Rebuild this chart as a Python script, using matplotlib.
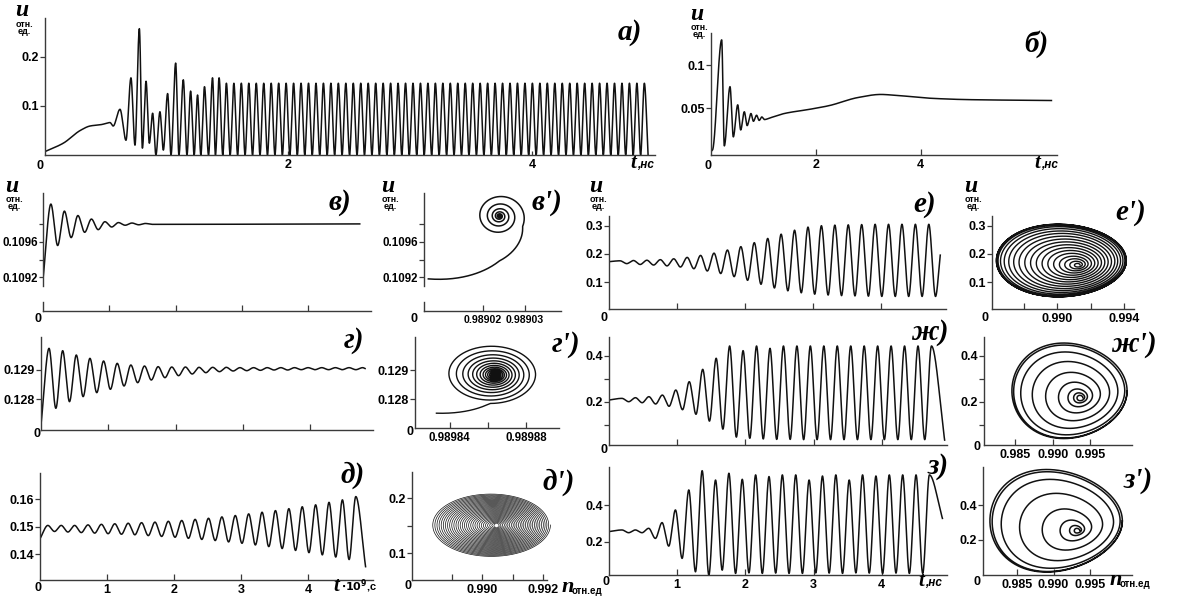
import numpy as np
import matplotlib
matplotlib.use("Agg")
import matplotlib.pyplot as plt

plt.rcParams['font.family'] = ['Liberation Sans', 'DejaVu Sans']
plt.rcParams['font.weight'] = 'bold'
plt.rcParams['mathtext.fontset'] = 'dejavusans'

# ======================= DATA =======================
# а) transient part: extrema / anchor points (t in ns, u)
a_trans_t = [0.0, 0.15, 0.29, 0.37, 0.465, 0.534, 0.56, 0.616, 0.665, 0.706, 0.739,
             0.775, 0.80, 0.83, 0.857, 0.884, 0.911, 0.944, 0.972, 1.007, 1.035,
             1.073, 1.10, 1.136, 1.166, 1.196, 1.225, 1.253, 1.28, 1.31, 1.343,
             1.376, 1.40, 1.43, 1.46]
a_trans_u = [0.007, 0.024, 0.050, 0.059, 0.062, 0.066, 0.059, 0.093, 0.030, 0.157, 0.020,
             0.257, 0.014, 0.150, 0.024, 0.085, 0.0, 0.088, 0.010, 0.125, 0.0,
             0.187, 0.0, 0.153, 0.0, 0.130, 0.0, 0.122, 0.0, 0.139, 0.0,
             0.157, 0.0, 0.157, 0.0]
a_steady_start, a_steady_period, a_end = 1.49, 0.0613, 4.95
a_steady_peak, a_steady_trough = 0.146, 0.0

# б)
b_t = [0.0, 0.03, 0.204, 0.254, 0.363, 0.426, 0.51, 0.567, 0.636, 0.69, 0.763, 0.81,
       0.87, 0.92, 0.97, 1.02, 1.13, 1.40, 1.90, 2.25, 2.81, 3.24, 3.52, 4.22, 4.92, 6.50]
b_u = [0.0, 0.002, 0.129, 0.0066, 0.075, 0.017, 0.054, 0.025, 0.046, 0.030, 0.044, 0.035,
       0.042, 0.036, 0.040, 0.037, 0.039, 0.044, 0.049, 0.053, 0.0625, 0.066, 0.065,
       0.0615, 0.060, 0.059]

# в)
v_start, v_t1, v_period, v_end_t, v_end_u = 0.1092, 0.116, 0.204, 4.78, 0.109805
v_peaks = [0.11003, 0.10995, 0.10990, 0.10986, 0.10983, 0.10982, 0.109815, 0.10981]
v_troughs = [0.10956, 0.10965, 0.10971, 0.10974, 0.10977, 0.10979, 0.109795, 0.10980]

# г)
g_start, g_t1, g_period, g_end_t, g_end_u = 0.12724, 0.115, 0.203, 4.82, 0.12905
g_peaks = [0.129739, 0.129659, 0.129511, 0.129398, 0.129307, 0.129227, 0.12917, 0.129136,
           0.129114, 0.129102, 0.129102, 0.129091, 0.129091, 0.129091, 0.12908, 0.12908,
           0.12908, 0.12908, 0.12908, 0.12908, 0.12908, 0.12908, 0.12908, 0.12908]
g_troughs = [0.127693, 0.12792, 0.128091, 0.128227, 0.128341, 0.128455, 0.128568, 0.128659,
             0.128739, 0.128807, 0.128864, 0.128909, 0.128943, 0.128966, 0.128977, 0.128989,
             0.129, 0.129, 0.129011, 0.129011, 0.129011, 0.129011, 0.129011]

# д)
d_start, d_t1, d_period, d_end_t, d_end_u = 0.1458, 0.114, 0.2, 4.86, 0.1355
d_peaks = [0.1505, 0.1505, 0.1505, 0.1507, 0.1509, 0.1511, 0.1513, 0.1515, 0.1517, 0.1520,
           0.1523, 0.1527, 0.1531, 0.1536, 0.1541, 0.1547, 0.1553, 0.1559, 0.1566, 0.1573,
           0.1580, 0.1589, 0.1598, 0.1610]
d_troughs = [0.1483, 0.1481, 0.1479, 0.1477, 0.1475, 0.1473, 0.1471, 0.1468, 0.1465, 0.1462,
             0.1458, 0.1454, 0.1450, 0.1445, 0.1440, 0.1434, 0.1428, 0.1421, 0.1414, 0.1406,
             0.1398, 0.1390, 0.1381]

# е)
e_start, e_t1, e_period, e_end_t, e_end_u = 0.173, 0.157, 0.198, 4.88, 0.196
e_peaks = [0.176, 0.177, 0.178, 0.180, 0.183, 0.188, 0.195, 0.203, 0.214, 0.226, 0.240, 0.255,
           0.270, 0.284, 0.295, 0.300, 0.302, 0.303, 0.304, 0.305, 0.305, 0.305, 0.305, 0.305]
e_troughs = [0.166, 0.163, 0.161, 0.158, 0.154, 0.148, 0.140, 0.131, 0.120, 0.107, 0.093, 0.080,
             0.070, 0.063, 0.058, 0.055, 0.053, 0.052, 0.051, 0.050, 0.050, 0.050, 0.050, 0.050]

# ж)
zh_start, zh_t1, zh_period, zh_end_t, zh_end_u = 0.207, 0.196, 0.197, 4.92, 0.032
zh_peaks = [0.2146, 0.2175, 0.222, 0.229, 0.251, 0.2876, 0.3416, 0.390, 0.4438, 0.4234, 0.4438,
            0.4336, 0.4438, 0.4438, 0.4438, 0.4438, 0.4438, 0.4438, 0.4438, 0.4438, 0.4438,
            0.4438, 0.4438, 0.4438]
zh_troughs = [0.200, 0.1956, 0.190, 0.180, 0.165, 0.145, 0.115, 0.080, 0.045, 0.040, 0.037,
              0.035, 0.035, 0.034, 0.034, 0.034, 0.034, 0.034, 0.034, 0.034, 0.034, 0.034, 0.034]

# з)
z_start, z_t1, z_period, z_end_t, z_end_u = 0.255, 0.19, 0.196, 4.889, 0.327
z_peaks = [0.264, 0.264, 0.273, 0.304, 0.373, 0.482, 0.587, 0.536, 0.573, 0.540, 0.564, 0.555,
           0.564, 0.564, 0.536, 0.558, 0.564, 0.536, 0.564, 0.558, 0.564, 0.564, 0.564, 0.564]
z_troughs = [0.249, 0.249, 0.218, 0.176, 0.109, 0.036, 0.018, 0.045, 0.027, 0.030, 0.027, 0.029,
             0.027, 0.027, 0.030, 0.029, 0.027, 0.030, 0.029, 0.027, 0.029, 0.027, 0.027]

# phase portraits: inner centre, outer-loop centre, outer semi-axes, radius per turn
vp_c_in, vp_c_out, vp_axes = (0.9890239, 0.109895), (0.9890239, 0.109887), (6.1e-6, 2.64e-4)
vp_turns = [0.622, 0.75, 0.93, 1.93, 2.93, 3.93, 4.93, 5.93, 6.93, 8.0, 9.5]
vp_radii = [3.85, 1.9, 1.0, 0.62, 0.38, 0.22, 0.12, 0.06, 0.03, 0.012, 0.004]

gp_c_in, gp_c_out, gp_axes = (0.989864, 0.128829), (0.989861, 0.128857), (2.5e-5, 1.05e-3)
gp_turns = [0.635, 0.75, 1.0, 2, 3, 4, 5, 6, 7, 8, 9, 10, 11, 12, 13, 14, 15, 16, 18]
gp_radii = [1.69, 0.95, 0.95, 0.80, 0.67, 0.56, 0.47, 0.39, 0.32, 0.26, 0.21, 0.17, 0.13,
            0.10, 0.075, 0.05, 0.03, 0.015, 0.004]

dp_c_in, dp_c_out, dp_axes = (0.99046, 0.151), (0.99029, 0.1515), (0.00194, 0.0576)
dp_turns = [0.0, 30.0]
dp_radii = [0.02, 1.0]

ep_c_in, ep_c_out, ep_axes = (0.99126, 0.161), (0.99023, 0.177), (0.00389, 0.128)
ep_turns = list(range(0, 20))
ep_radii = [0.03, 0.08, 0.14, 0.20, 0.27, 0.34, 0.41, 0.48, 0.55, 0.62, 0.69, 0.76, 0.82,
            0.88, 0.93, 0.97, 0.99, 1.0, 1.0, 1.0]

zhp_c_in, zhp_c_out, zhp_axes = (0.9938, 0.2162), (0.99226, 0.2477), (0.00773, 0.208)
zhp_turns = list(range(0, 10))
zhp_radii = [0.04, 0.08, 0.14, 0.25, 0.42, 0.62, 0.80, 0.95, 1.0, 1.0]

zp_c_in, zp_c_out, zp_axes = (0.99341, 0.2531), (0.99036, 0.3097), (0.00907, 0.290)
zp_turns = list(range(0, 9))
zp_radii = [0.03, 0.07, 0.14, 0.30, 0.55, 0.80, 0.95, 1.0, 1.0]

# ======================= helpers =======================
W, H = 1179, 596
fig = plt.figure(figsize=(W / 100, H / 100), dpi=100)
INK = '#111111'
AX = '#3a3a3a'
TFS = 9


def pchip(x, y, xs):
    x = np.asarray(x, float)
    y = np.asarray(y, float)
    h = np.diff(x)
    d = np.diff(y) / h
    m = np.zeros_like(y)
    for k in range(1, len(x) - 1):
        if d[k - 1] * d[k] > 0:
            w1 = 2 * h[k] + h[k - 1]
            w2 = h[k] + 2 * h[k - 1]
            m[k] = (w1 + w2) / (w1 / d[k - 1] + w2 / d[k])
    m[0] = d[0]
    m[-1] = d[-1]
    i = np.clip(np.searchsorted(x, xs) - 1, 0, len(x) - 2)
    t = (xs - x[i]) / h[i]
    h00 = 2 * t**3 - 3 * t**2 + 1
    h10 = t**3 - 2 * t**2 + t
    h01 = -2 * t**3 + 3 * t**2
    h11 = t**3 - t**2
    return h00 * y[i] + h10 * h[i] * m[i] + h01 * y[i + 1] + h11 * h[i] * m[i + 1]


def extrema(start, t1, period, peaks, troughs, end_t, end_u):
    t, u = [0.0], [start]
    for k, p in enumerate(peaks):
        t.append(t1 + k * period)
        u.append(p)
        if k < len(troughs):
            t.append(t1 + (k + 0.5) * period)
            u.append(troughs[k])
    if end_t > t[-1]:
        t.append(end_t)
        u.append(end_u)
    return t, u


def spiral(c_in, c_out, axes, turns, radii, lin=False, per_turn=500, egg=0.0):
    th = np.linspace(turns[0], turns[-1], int((turns[-1] - turns[0]) * per_turn) + 2)
    if lin:
        r = np.interp(th, turns, radii)
    else:
        r = np.exp(np.interp(th, turns, np.log(radii)))
    w = np.clip(r, 0, 1)
    cx = c_in[0] + (c_out[0] - c_in[0]) * w
    cy = c_in[1] + (c_out[1] - c_in[1]) * w
    a = 2 * np.pi * th
    return (cx + axes[0] * r * np.cos(a),
            cy + axes[1] * r * np.sin(a) * (1 + egg * np.cos(a)))


def lin(p1, v1, p2, v2):
    k = (v2 - v1) / (p2 - p1)
    return lambda p: v1 + (p - p1) * k


def make_ax(box, xcal, ycal, xfs=TFS, yfs=TFS):
    x0, x1, ytop, ybot = box
    ax = fig.add_axes([x0 / W, 1 - ybot / H, (x1 - x0) / W, (ybot - ytop) / H])
    fx, fy = lin(*xcal), lin(*ycal)
    ax.set_xlim(fx(x0), fx(x1))
    ax.set_ylim(fy(ybot), fy(ytop))
    ax.patch.set_alpha(0)
    for s in ['top', 'right']:
        ax.spines[s].set_visible(False)
    for s in ['left', 'bottom']:
        ax.spines[s].set_color(AX)
        ax.spines[s].set_linewidth(1.0)
    ax.tick_params(axis='y', direction='out', length=3.5, width=0.9, color=AX, pad=1,
                   labelsize=yfs)
    ax.tick_params(axis='x', direction='in', length=4, width=0.9, color=AX, pad=3,
                   labelsize=xfs)
    ax._fx, ax._fy = fx, fy
    return ax


def ticks(ax, xt, xl, yt, yl):
    ax.set_xticks(xt)
    ax.set_xticklabels(xl)
    ax.set_yticks(yt)
    ax.set_yticklabels(yl)


def ptxt(x, y, s, **kw):
    kw.setdefault('ha', 'center')
    kw.setdefault('va', 'center')
    fig.text(x / W, 1 - y / H, s, **kw)


def letter(x, y, s):
    ptxt(x, y, s, family='Liberation Serif', style='italic', weight='bold', size=21)


def ulabel(x, y):
    ptxt(x, y - 2, 'u', family='Liberation Serif', style='italic', weight='bold', size=17)
    ptxt(x + 2, y + 11.5, 'отн.', size=6.5, weight='bold')
    ptxt(x + 2, y + 18.5, 'ед.', size=6.5, weight='bold')


def zero(x, y):
    ptxt(x, y, '0', size=TFS, weight='bold')


def tlabel(x, y, sub):
    ptxt(x, y, 't', family='Liberation Serif', style='italic', weight='bold', size=15,
         ha='left', va='baseline')
    ptxt(x + 7, y, sub, style='italic', size=8.5, weight='bold', ha='left', va='baseline')


def nlabel(x, y):
    ptxt(x, y, 'n', family='Liberation Serif', style='italic', weight='bold', size=16,
         ha='left', va='baseline')
    ptxt(x + 10, y + 2, 'отн.ед', size=7, weight='bold', ha='left', va='baseline')


def ts_plot(ax, t, u, n=4000):
    xs = np.linspace(t[0], t[-1], n)
    ax.plot(xs, pchip(t, u, xs), color=INK, lw=1.1, solid_joinstyle='round')


# ======================= а) =======================
ax = make_ax((45, 655, 18, 155), (45, 0, 532, 4), (155, 0, 56.7, 0.2))
a_t, a_u = list(a_trans_t), list(a_trans_u)
k = 0
while a_steady_start + k * a_steady_period <= a_end:
    tp = a_steady_start + k * a_steady_period
    a_t += [tp, tp + a_steady_period / 2]
    a_u += [a_steady_peak, a_steady_trough]
    k += 1
ts_plot(ax, a_t, a_u, 9000)
ticks(ax, [2, 4], ['2', '4'], [0.1, 0.2], ['0.1', '0.2'])
ax.tick_params(axis='x', length=3)
zero(40, 166)
ulabel(22, 13)
letter(630, 33, 'а)')
tlabel(630, 168, ',нс')

# ======================= б) =======================
ax = make_ax((711, 1057, 33, 155), (711, 0, 920.5, 4), (108.3, 0.05, 65, 0.1))
ts_plot(ax, b_t, b_u, 5000)
ticks(ax, [2, 4], ['2', '4'], [0.05, 0.1], ['0.05', '0.1'])
zero(708, 166)
ulabel(697, 16)
letter(1036, 44, 'б)')
tlabel(1034, 168, ',нс')

# ======================= в) =======================
V_BASE = 311
ax = make_ax((43, 371, 193, V_BASE), (43.2, 0, 308.1, 4), (242, 0.1096, 277.3, 0.1092),
             yfs=8.3)
t, u = extrema(v_start, v_t1, v_period, v_peaks, v_troughs, v_end_t, v_end_u)
ts_plot(ax, t, u)
ticks(ax, [1, 2, 3, 4], [''] * 4, [0.1092, 0.1094, 0.1096, 0.1098],
      ['0.1092', '', '0.1096', ''])
ax.tick_params(axis='y', length=3, pad=0.5)
ax.spines['left'].set_bounds(ax._fy(286), ax._fy(193))
ax.plot([ax._fx(43)] * 2, [ax._fy(V_BASE), ax._fy(V_BASE - 9)], color=AX, lw=1.0,
        clip_on=False)
zero(38, 319)
ulabel(12, 188)
letter(340, 202, 'в)')

# в')
ax = make_ax((424, 561, 193, V_BASE), (483, 0.98902, 525, 0.98903),
             (242, 0.1096, 277.3, 0.1092), xfs=7.6, yfs=8.3)
x, y = spiral(vp_c_in, vp_c_out, vp_axes, vp_turns, vp_radii)
ax.plot(x, y, color=INK, lw=1.1, clip_on=False)
ticks(ax, [0.98902, 0.98903], ['0.98902', '0.98903'], [0.1092, 0.1094, 0.1096, 0.1098],
      ['0.1092', '', '0.1096', ''])
ax.spines['left'].set_bounds(ax._fy(286), ax._fy(193))
ax.plot([ax._fx(424)] * 2, [ax._fy(V_BASE), ax._fy(V_BASE - 9)], color=AX, lw=1.0,
        clip_on=False)
zero(414, 319)
ulabel(388, 188)
letter(547, 202, "в')")

# ======================= г) =======================
ax = make_ax((41, 373, 337, 430), (41.3, 0, 310, 4), (370, 0.129, 399.3, 0.128))
t, u = extrema(g_start, g_t1, g_period, g_peaks, g_troughs, g_end_t, g_end_u)
ts_plot(ax, t, u)
ticks(ax, [1, 2, 3, 4], [''] * 4, [0.128, 0.129], ['0.128', '0.129'])
zero(37, 434)
letter(354, 340, 'г)')

# г')
ax = make_ax((415, 559, 337, 428), (449.7, 0.98984, 526.2, 0.98988),
             (370, 0.129, 399.3, 0.128), xfs=8.3)
x, y = spiral(gp_c_in, gp_c_out, gp_axes, gp_turns, gp_radii)
ax.plot(x, y, color=INK, lw=1.0, clip_on=False)
ticks(ax, [0.98984, 0.98986, 0.98988], ['0.98984', '', '0.98988'], [0.128, 0.129],
      ['0.128', '0.129'])
zero(410, 432)
letter(566, 345, "г')")

# ======================= д) =======================
ax = make_ax((40, 373, 473, 580), (40.2, 0, 308, 4), (499.3, 0.16, 554.3, 0.14))
t, u = extrema(d_start, d_t1, d_period, d_peaks, d_troughs, d_end_t, d_end_u)
ts_plot(ax, t, u)
ticks(ax, [1, 2, 3, 4], ['1', '2', '3', '4'], [0.14, 0.15, 0.16], ['0.14', '0.15', '0.16'])
zero(38, 588)
letter(353, 475, 'д)')
ptxt(333, 591, 't', family='Liberation Serif', style='italic', weight='bold', size=15,
     ha='left', va='baseline')
ptxt(341, 590, r'$\cdot10^9$,c', size=8, weight='bold', ha='left', va='baseline')

# д')
ax = make_ax((412, 547, 472, 580), (482.2, 0.990, 543.4, 0.992), (498.3, 0.2, 553.3, 0.1))
x, y = spiral(dp_c_in, dp_c_out, dp_axes, dp_turns, dp_radii, lin=True, per_turn=400)
ax.plot(x, y, color=INK, lw=0.5, clip_on=False)
ax.plot([dp_c_in[0]], [dp_c_in[1]], 'o', ms=2.5, color='white', mec='none')
ticks(ax, [0.989, 0.990, 0.991, 0.992], ['', '0.990', '', '0.992'], [0.1, 0.15, 0.2],
      ['0.1', '', '0.2'])
zero(408, 586)
letter(559, 482, "д')")
nlabel(562, 592)

# ======================= е) =======================
ax = make_ax((609, 946, 216, 309), (609.4, 0, 880.6, 4), (225.7, 0.3, 282.3, 0.1))
t, u = extrema(e_start, e_t1, e_period, e_peaks, e_troughs, e_end_t, e_end_u)
ts_plot(ax, t, u)
ticks(ax, [1, 2, 3, 4], [''] * 4, [0.1, 0.2, 0.3], ['0.1', '0.2', '0.3'])
zero(604, 318)
ulabel(596, 188)
letter(925, 205, 'е)')

# е')
ax = make_ax((992, 1134, 216, 309), (1057.5, 0.990, 1124.3, 0.994), (225.7, 0.3, 282.3, 0.1))
x, y = spiral(ep_c_in, ep_c_out, ep_axes, ep_turns, ep_radii, egg=-0.05)
ax.plot(x, y, color=INK, lw=1.0, clip_on=False)
ticks(ax, [0.988, 0.990, 0.992, 0.994], ['', '0.990', '', '0.994'], [0.1, 0.2, 0.3],
      ['0.1', '0.2', '0.3'])
zero(985, 318)
ulabel(971, 188)
letter(1131, 212, "е')")

# ======================= ж) =======================
ax = make_ax((609, 947, 337, 445), (608.6, 0, 881.8, 4), (356, 0.4, 401.7, 0.2))
t, u = extrema(zh_start, zh_t1, zh_period, zh_peaks, zh_troughs, zh_end_t, zh_end_u)
ts_plot(ax, t, u)
ticks(ax, [1, 2, 3, 4], [''] * 4, [0.1, 0.2, 0.3, 0.4], ['', '0.2', '', '0.4'])
zero(604, 450)
letter(930, 333, 'ж)')

# ж')
ax = make_ax((984, 1132, 337, 445), (1015.4, 0.985, 1089.9, 0.995), (356, 0.4, 401.7, 0.2))
x, y = spiral(zhp_c_in, zhp_c_out, zhp_axes, zhp_turns, zhp_radii, egg=-0.1)
ax.plot(x, y, color=INK, lw=1.1, clip_on=False)
ticks(ax, [0.985, 0.990, 0.995], ['0.985', '0.990', '0.995'], [0.1, 0.2, 0.3, 0.4],
      ['', '0.2', '', '0.4'])
zero(977, 447)
letter(1134, 345, "ж')")

# ======================= з) =======================
ax = make_ax((609, 947, 467, 575), (609, 0, 881.8, 4), (505, 0.4, 541.7, 0.2))
t, u = extrema(z_start, z_t1, z_period, z_peaks, z_troughs, z_end_t, z_end_u)
ts_plot(ax, t, u)
ticks(ax, [1, 2, 3, 4], ['1', '2', '3', '4'], [0.2, 0.4], ['0.2', '0.4'])
zero(606, 582)
letter(938, 466, 'з)')
tlabel(918, 586, ',нс')

# з')
ax = make_ax((983, 1132, 467, 575), (1017, 0.985, 1090, 0.995), (505, 0.4, 540, 0.2))
x, y = spiral(zp_c_in, zp_c_out, zp_axes, zp_turns, zp_radii, egg=-0.15)
ax.plot(x, y, color=INK, lw=1.1, clip_on=False)
ticks(ax, [0.985, 0.990, 0.995], ['0.985', '0.990', '0.995'], [0.2, 0.4], ['0.2', '0.4'])
zero(977, 582)
letter(1138, 480, "з')")
nlabel(1110, 585)

fig.savefig('out.png', dpi=100, facecolor='white')
